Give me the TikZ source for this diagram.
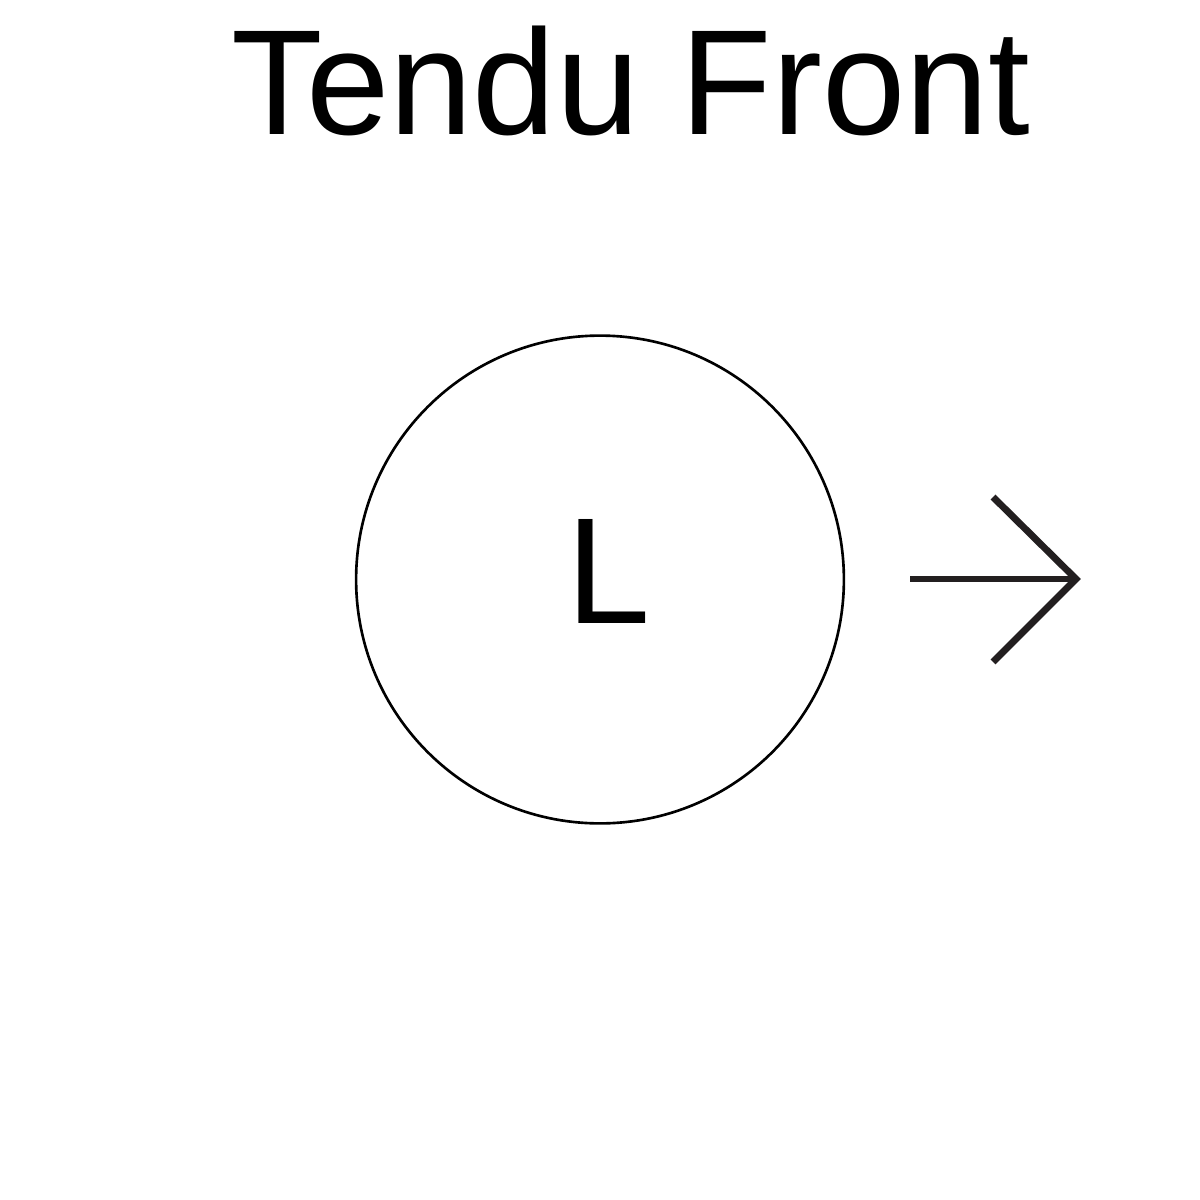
\documentclass[tikz,border=0pt]{standalone}
\usepackage{fontspec}
\setmainfont{Liberation Sans}
\definecolor{arrowink}{HTML}{231F20}
\begin{document}
\begin{tikzpicture}[x=0.01cm,y=-0.01cm,
  titletext/.style={font=\fontsize{42.6pt}{50pt}\selectfont,anchor=base,inner sep=0},
  sidelabel/.style={font=\fontsize{43pt}{52pt}\selectfont,anchor=base,inner sep=0},
  ring/.style={circle,draw=black,line width=0.75pt,minimum size=4.875cm,inner sep=0},
  dirarrow/.style={draw=arrowink,line width=1.95pt,line join=miter}]
\useasboundingbox (0,0) rectangle (1200,1200);
\node[titletext] (title) at (631,134) {Tendu Front};
\node[ring] (c) at (600,579.5) {};
\node[sidelabel] (l) at (609,623) {L};
\coordinate (a) at (910,579);
\coordinate (tip) at (1076,579);
\coordinate (h1) at (993,497);
\coordinate (h2) at (993,662);
\draw[dirarrow] (a) -- (tip);
\draw[dirarrow] (h1) -- (tip) -- (h2);
\end{tikzpicture}
\end{document}
